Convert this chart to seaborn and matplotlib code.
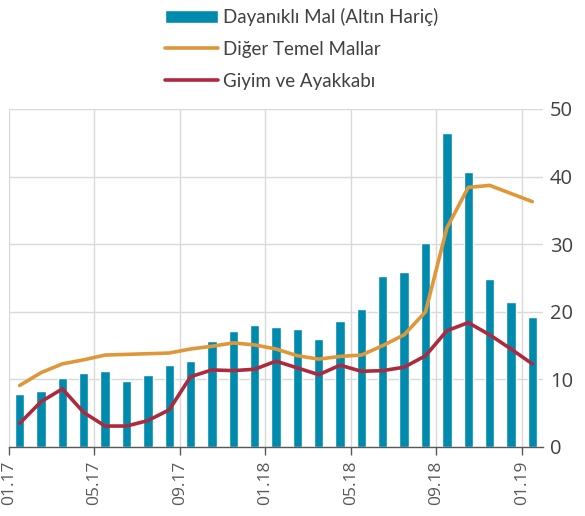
import matplotlib
matplotlib.use("Agg")
import matplotlib.pyplot as plt
import pandas as pd
import seaborn as sns

# Data (monthly, 01.17 - 01.19)
months = ["01.17", "02.17", "03.17", "04.17", "05.17", "06.17", "07.17", "08.17",
          "09.17", "10.17", "11.17", "12.17", "01.18", "02.18", "03.18", "04.18",
          "05.18", "06.18", "07.18", "08.18", "09.18", "10.18", "11.18", "12.18", "01.19"]
dayanikli = [7.8, 8.3, 10.2, 10.9, 11.2, 9.8, 10.7, 12.2, 12.7, 15.7, 17.1, 18.1, 17.8,
             17.4, 16.0, 18.7, 20.4, 25.3, 25.9, 30.2, 46.4, 40.7, 24.8, 21.5, 19.3]
diger_temel = [9.1, 11.0, 12.3, 12.9, 13.6, 13.7, 13.8, 13.9, 14.5, 14.9, 15.4, 15.1, 14.5,
               13.5, 13.0, 13.4, 13.6, 15.0, 16.6, 20.0, 32.4, 38.4, 38.7, 37.5, 36.3]
giyim = [3.5, 6.7, 8.6, 5.1, 3.1, 3.1, 3.9, 5.5, 10.4, 11.4, 11.3, 11.5, 12.7,
         11.7, 10.7, 12.1, 11.2, 11.3, 11.8, 13.5, 17.2, 18.4, 16.6, 14.5, 12.3]
tick_labels = ["01.17", "05.17", "09.17", "01.18", "05.18", "09.18", "01.19"]

df = pd.DataFrame({"ay": months, "dayanikli": dayanikli,
                   "diger": diger_temel, "giyim": giyim})
df["x"] = range(len(df))

sns.set_style("white")
plt.rcParams["font.family"] = ["Open Sans", "DejaVu Sans"]

fig = plt.figure(figsize=(5.85, 5.16), dpi=100)
ax = fig.add_axes([9 / 585, 1 - 447 / 516, 534 / 585, 338 / 516])

ax.bar(df["x"], df["dayanikli"], width=0.44, color="#008BAE",
       label="Dayanıklı Mal (Altın Hariç)", zorder=2)
sns.lineplot(data=df, x="x", y="diger", ax=ax, color="#E0973A", linewidth=2.6,
             label="Diğer Temel Mallar", zorder=3)
sns.lineplot(data=df, x="x", y="giyim", ax=ax, color="#AD2A3E", linewidth=2.6,
             label="Giyim ve Ayakkabı", zorder=4)

ax.set_xlim(-0.5, 24.5)
ax.set_ylim(0, 50)
ax.set_xticks([i * 4 - 0.5 for i in range(len(tick_labels))])
ax.set_xticklabels(tick_labels, rotation=90, fontsize=12.5, color="#595959")
ax.set_yticks([0, 10, 20, 30, 40, 50])
ax.yaxis.tick_right()
ax.tick_params(axis="y", labelsize=14.5, colors="#404040", length=0, pad=5)
ax.tick_params(axis="x", length=6, width=1, color="#595959", direction="out",
               bottom=True, pad=4)
ax.set_xlabel("")
ax.set_ylabel("")

ax.grid(True, color="#D9D9D9", linewidth=1, zorder=0)
ax.set_axisbelow(True)
for side in ["top", "right", "left"]:
    ax.spines[side].set_visible(False)
ax.spines["bottom"].set_color("#595959")
ax.spines["bottom"].set_linewidth(1)

# legend above the plot, bar first
handles, labels = ax.get_legend_handles_labels()
ax.get_legend().remove()
order = [labels.index("Dayanıklı Mal (Altın Hariç)"),
         labels.index("Diğer Temel Mallar"),
         labels.index("Giyim ve Ayakkabı")]
leg = fig.legend([handles[i] for i in order], [labels[i] for i in order],
                 loc="center left", bbox_to_anchor=(165 / 585, 1 - 49 / 516),
                 frameon=False, borderpad=0, borderaxespad=0,
                 handlelength=2.8, handletextpad=0.28, labelspacing=0.8,
                 prop={"family": ["Lato", "DejaVu Sans"], "size": 13.5})
for t in leg.get_texts():
    t.set_color("#404040")

fig.savefig("out.png", dpi=100)
